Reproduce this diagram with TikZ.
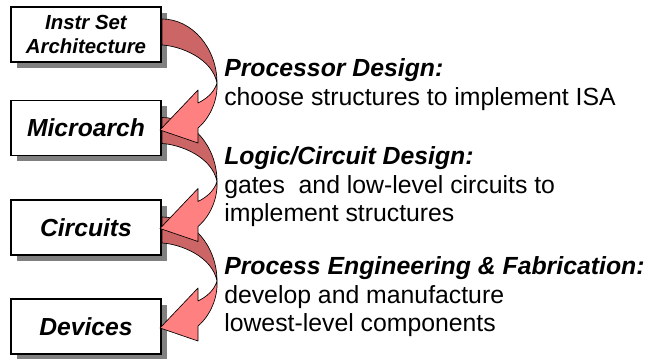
\documentclass[tikz,border=0pt]{standalone}
\usepackage{fontspec}
\setmainfont{Liberation Sans}
\usetikzlibrary{calc,shadows}

\definecolor{ribbonback}{HTML}{CC6666}
\definecolor{ribbonfront}{HTML}{FF8080}

\begin{document}
\begin{tikzpicture}[x=0.75pt,y=-0.75pt,
  level/.style={draw=black,line width=0.8pt,fill=white,
    minimum width=112.5pt,minimum height=41.25pt,inner sep=0pt,outer sep=0pt,
    align=center,font=\fontsize{18.5}{21}\selectfont\bfseries\itshape,
    drop shadow={shadow xshift=4.5pt,shadow yshift=-4.5pt,fill=black!50,opacity=1}},
  head/.style={anchor=base west,inner sep=0pt,font=\fontsize{18.6}{21.4}\selectfont\bfseries\itshape},
  body/.style={anchor=base west,inner sep=0pt,font=\fontsize{18.6}{21.4}\selectfont},
  backpart/.style={fill=ribbonback,draw=black,line width=0.5pt,line join=round},
  frontpart/.style={fill=ribbonfront,draw=black,line width=0.5pt,line join=round},
  ribbon/.pic={
    % rear half of the twisted ribbon, leaving the upper box
    \path[backpart] (0,0) .. controls (30,0) and (55,29) .. (55,64)
      .. controls (50,39) and (18,27) .. (0,26) -- cycle;
    % front half with its arrow head, entering the lower box
    \path[frontpart] (55,64) .. controls (56,81) and (48,99) .. (36,109)
      -- (36,124) -- (-2,111) -- (36,71) -- (36,84)
      .. controls (44,80) and (52,74) .. (55,64) -- cycle;
  }]
\useasboundingbox (0,0) rectangle (654,359);

% abstraction levels
\node[level,font=\fontsize{15.3}{18}\selectfont\bfseries\itshape] (isa) at (86,34.5) {Instr Set\\Architecture};
\node[level] (uarch) at (86,128) {Microarch};
\node[level] (circ) at (86,227.5) {Circuits};
\node[level] (dev) at (86,326.5) {Devices};

% curved arrows between the levels (lowest first so each head overlaps the next tail)
\pic at ($(circ.north east)+(1,17)$) {ribbon};
\pic at ($(uarch.north east)+(1,17)$) {ribbon};
\pic at ($(isa.north east)+(1,12)$) {ribbon};

% design steps
\node[head] (t1a) at (224,77) {Processor Design:};
\node[body] (t1b) at (224,106) {choose structures to implement ISA};

\node[head] (t2a) at (224,165) {Logic/Circuit Design:};
\node[body] (t2b) at (224,193.5) {gates\ \ and low-level circuits to};
\node[body] (t2c) at (224,222) {implement structures};

\node[head] (t3a) at (224,275) {Process Engineering \& Fabrication:};
\node[body] (t3b) at (224,303.5) {develop and manufacture};
\node[body] (t3c) at (224,332) {lowest-level components};
\end{tikzpicture}
\end{document}
